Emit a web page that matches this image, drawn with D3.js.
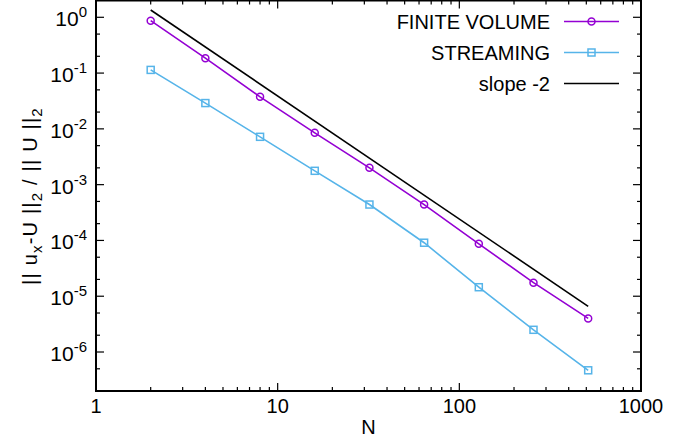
<!DOCTYPE html>
<html>
<head>
<meta charset="utf-8">
<script src="https://cdn.jsdelivr.net/npm/d3@7"></script>
<style>
  body { margin: 0; background: #fff; }
  text { font-family: "Liberation Sans", Arial, Helvetica, sans-serif; fill: #000; }
</style>
</head>
<body>
<div id="chart"></div>
<script>
// données
const N = [2, 4, 8, 16, 32, 64, 128, 256, 512];
const finiteVolume = [0.87, 0.185, 0.0375, 0.0085, 0.00200, 0.00044, 0.000087, 0.0000175, 0.0000040];
const streaming = [0.114, 0.029, 0.0072, 0.00177, 0.00044, 0.000091, 0.0000145, 0.0000025, 0.00000047];
const slopeN = [2, 512];
const slopeVals = [1.35, 0.0000066];
const xTicks = [1, 10, 100, 1000];
const yExps = [0, -1, -2, -3, -4, -5, -6];
const legendLabels = ["FINITE VOLUME", "STREAMING", "slope -2"];

const W = 690, H = 441;
const mLeft = 96, mRight = 641, mTop = 0.5, mBottom = 391;
const purple = "#9400d3", blue = "#56b4e9";
const fs = 20;

const svg = d3.select("#chart").append("svg")
  .attr("width", W).attr("height", H);

const x = d3.scaleLog().domain([1, 1000]).range([mLeft, mRight]);
const y = d3.scaleLog().domain([2e-7, 2]).range([mBottom, mTop]);

// ticks mineurs
const xMinor = [];
for (let d = 1; d < 1000; d *= 10) for (let k = 2; k <= 9; k++) xMinor.push(d * k);
const yMinor = [];
for (let e = -7; e <= 0; e++) [2, 5].forEach(k => { const v = k * Math.pow(10, e); if (v > 2e-7 && v < 2) yMinor.push(v); });

const g = svg.append("g");
function ticks(vals, len) {
  vals.forEach(v => {
    g.append("line").attr("x1", x(v)).attr("x2", x(v)).attr("y1", mBottom).attr("y2", mBottom - len);
    g.append("line").attr("x1", x(v)).attr("x2", x(v)).attr("y1", mTop).attr("y2", mTop + len);
  });
}
ticks(xTicks, 8);
ticks(xMinor, 4);
function yticks(vals, len) {
  vals.forEach(v => {
    g.append("line").attr("y1", y(v)).attr("y2", y(v)).attr("x1", mLeft).attr("x2", mLeft + len);
    g.append("line").attr("y1", y(v)).attr("y2", y(v)).attr("x1", mRight).attr("x2", mRight - len);
  });
}
yticks(yExps.map(e => Math.pow(10, e)), 8);
yticks(yMinor, 4);
g.selectAll("line").attr("stroke", "#000").attr("stroke-width", 1.2);

// cadre
svg.append("rect").attr("x", mLeft).attr("y", mTop)
  .attr("width", mRight - mLeft).attr("height", mBottom - mTop)
  .attr("fill", "none").attr("stroke", "#000").attr("stroke-width", 2);

// labels x
svg.selectAll(".xl").data(xTicks).enter().append("text")
  .attr("x", d => x(d)).attr("y", 413)
  .attr("text-anchor", "middle").attr("font-size", fs)
  .text(d => d);

// labels y
yExps.forEach(e => {
  const t = svg.append("text")
    .attr("x", 87).attr("y", y(Math.pow(10, e)) + 9)
    .attr("text-anchor", "end").attr("font-size", 21);
  t.append("tspan").text("10");
  t.append("tspan").attr("dy", -9).attr("font-size", 15).text(e);
});

// titres
svg.append("text").attr("x", (mLeft + mRight) / 2).attr("y", 434)
  .attr("text-anchor", "middle").attr("font-size", fs).text("N");

const yt = svg.append("text")
  .attr("transform", "translate(37,196) rotate(-90)")
  .attr("text-anchor", "middle").attr("font-size", fs)
  .attr("letter-spacing", 1.2);
yt.append("tspan").text("|| u");
yt.append("tspan").attr("dy", 5).attr("font-size", 15).text("x");
yt.append("tspan").attr("dy", -5).text("-U ||");
yt.append("tspan").attr("dy", 5).attr("font-size", 15).text("2");
yt.append("tspan").attr("dy", -5).text(" / || U ||");
yt.append("tspan").attr("dy", 5).attr("font-size", 15).text("2");

// courbes
const line = d3.line().x(d => x(d[0])).y(d => y(d[1]));

svg.append("path").datum(slopeN.map((n, i) => [n, slopeVals[i]]))
  .attr("d", line).attr("fill", "none").attr("stroke", "#000").attr("stroke-width", 1.6);

svg.append("path").datum(N.map((n, i) => [n, finiteVolume[i]]))
  .attr("d", line).attr("fill", "none").attr("stroke", purple).attr("stroke-width", 1.6);
svg.selectAll(".fv").data(N.map((n, i) => [n, finiteVolume[i]])).enter().append("circle")
  .attr("cx", d => x(d[0])).attr("cy", d => y(d[1])).attr("r", 3.5)
  .attr("fill", "none").attr("stroke", purple).attr("stroke-width", 1.5);

svg.append("path").datum(N.map((n, i) => [n, streaming[i]]))
  .attr("d", line).attr("fill", "none").attr("stroke", blue).attr("stroke-width", 1.6);
svg.selectAll(".st").data(N.map((n, i) => [n, streaming[i]])).enter().append("rect")
  .attr("x", d => x(d[0]) - 3.5).attr("y", d => y(d[1]) - 3.5)
  .attr("width", 7).attr("height", 7)
  .attr("fill", "none").attr("stroke", blue).attr("stroke-width", 1.5);

// légende
const lg = svg.append("g");
const lColors = [purple, blue, "#000"];
legendLabels.forEach((lab, i) => {
  const ly = 21.5 + i * 31;
  lg.append("text").attr("x", 550).attr("y", ly + 7)
    .attr("text-anchor", "end").attr("font-size", fs).text(lab);
  lg.append("line").attr("x1", 564).attr("x2", 619).attr("y1", ly).attr("y2", ly)
    .attr("stroke", lColors[i]).attr("stroke-width", 1.6);
  if (i === 0) lg.append("circle").attr("cx", 591.5).attr("cy", ly).attr("r", 3.5)
    .attr("fill", "none").attr("stroke", purple).attr("stroke-width", 1.5);
  if (i === 1) lg.append("rect").attr("x", 588).attr("y", ly - 3.5).attr("width", 7).attr("height", 7)
    .attr("fill", "none").attr("stroke", blue).attr("stroke-width", 1.5);
});
</script>
</body>
</html>
